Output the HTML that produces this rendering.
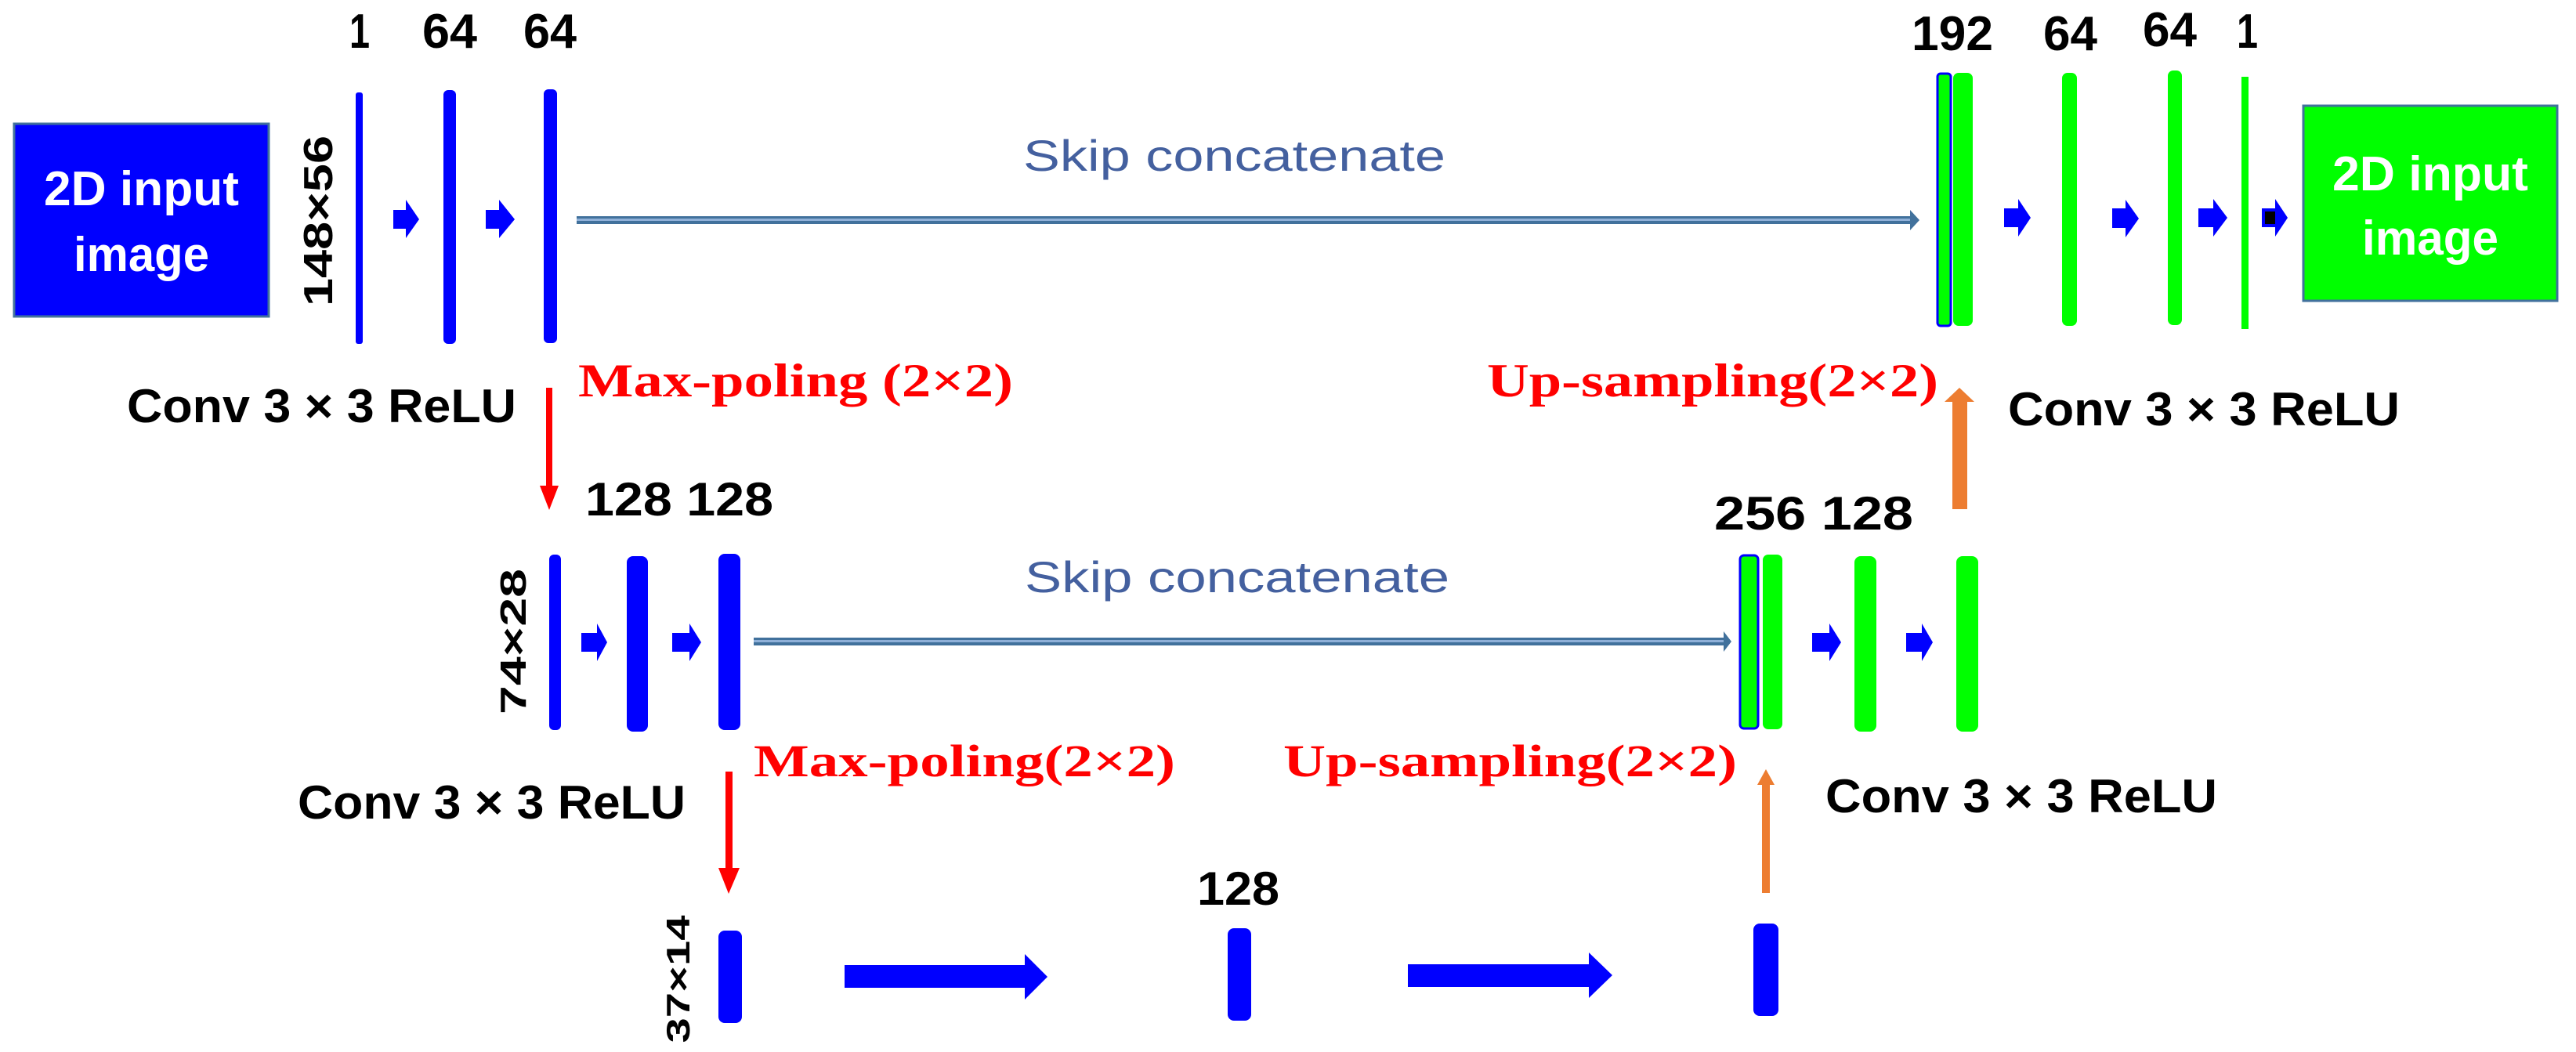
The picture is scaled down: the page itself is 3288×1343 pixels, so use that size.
<!DOCTYPE html>
<html><head><meta charset="utf-8"><style>
html,body{margin:0;padding:0;background:#fff;}
svg{display:block;}
.n{font-family:"Liberation Sans",sans-serif;font-weight:bold;fill:#000;}
.r{font-family:"Liberation Serif",serif;font-weight:bold;fill:#ff0000;}
.s{font-family:"Liberation Sans",sans-serif;fill:#44609f;}
.w{font-family:"Liberation Sans",sans-serif;font-weight:bold;fill:#fff;}
</style></head><body>
<svg width="3288" height="1343" viewBox="0 0 3288 1343" xmlns="http://www.w3.org/2000/svg">
<!-- input box -->
<rect x="18" y="158" width="325" height="246" fill="#0000ff" stroke="#41719c" stroke-width="3"/>
<text class="w" x="56" y="262" font-size="62" textLength="249" lengthAdjust="spacingAndGlyphs">2D input</text>
<text class="w" x="94" y="346" font-size="62" textLength="173" lengthAdjust="spacingAndGlyphs">image</text>
<!-- output box -->
<rect x="2940" y="135" width="324" height="249" fill="#00ff00" stroke="#41719c" stroke-width="3"/>
<text class="w" x="2977" y="243" font-size="62" textLength="250" lengthAdjust="spacingAndGlyphs">2D input</text>
<text class="w" x="3015" y="325" font-size="62" textLength="174" lengthAdjust="spacingAndGlyphs">image</text>

<!-- top row numbers -->
<text class="n" x="446" y="61" font-size="62" textLength="26" lengthAdjust="spacingAndGlyphs">1</text>
<text class="n" x="539" y="61" font-size="62" textLength="70" lengthAdjust="spacingAndGlyphs">64</text>
<text class="n" x="668" y="61" font-size="62" textLength="68" lengthAdjust="spacingAndGlyphs">64</text>
<text class="n" x="2440" y="64" font-size="62" textLength="104" lengthAdjust="spacingAndGlyphs">192</text>
<text class="n" x="2608" y="64" font-size="62" textLength="69" lengthAdjust="spacingAndGlyphs">64</text>
<text class="n" x="2735" y="59" font-size="62" textLength="69" lengthAdjust="spacingAndGlyphs">64</text>
<text class="n" x="2855" y="61" font-size="62" textLength="27" lengthAdjust="spacingAndGlyphs">1</text>

<!-- vertical size labels -->
<text class="n" transform="translate(424,282) rotate(-90)" text-anchor="middle" font-size="52" textLength="218" lengthAdjust="spacingAndGlyphs">148×56</text>
<text class="n" transform="translate(671,819) rotate(-90)" text-anchor="middle" font-size="46" textLength="186" lengthAdjust="spacingAndGlyphs">74×28</text>
<text class="n" transform="translate(880,1250) rotate(-90)" text-anchor="middle" font-size="42" textLength="163" lengthAdjust="spacingAndGlyphs">37×14</text>

<!-- top encoder bars -->
<rect x="454" y="118" width="9" height="321" rx="3" fill="#0000ff"/>
<rect x="566" y="115" width="16" height="324" rx="6" fill="#0000ff"/>
<rect x="694" y="114" width="17" height="324" rx="6" fill="#0000ff"/>
<!-- small arrows -->
<polygon points="502,268 518,268 518,255 535,280 518,304 518,292 502,292" fill="#0000ff"/>
<polygon points="620,268 637,268 637,255 657,280 637,304 637,292 620,292" fill="#0000ff"/>

<!-- skip line top -->
<rect x="736" y="276" width="1704" height="10" fill="#41719c"/>
<rect x="736" y="279" width="1704" height="3" fill="#8fb0d8"/>
<polygon points="2438,268 2450,281 2438,294" fill="#41719c"/>
<text class="s" x="1306" y="218" font-size="56" textLength="539" lengthAdjust="spacingAndGlyphs">Skip concatenate</text>

<!-- top decoder bars -->
<rect x="2473" y="94" width="17" height="322" rx="4" fill="#00ff00" stroke="#0000ff" stroke-width="3"/>
<rect x="2493" y="93" width="25" height="323" rx="7" fill="#00ff00"/>
<rect x="2632" y="93" width="19" height="323" rx="7" fill="#00ff00"/>
<rect x="2767" y="90" width="18" height="325" rx="7" fill="#00ff00"/>
<rect x="2861" y="98" width="9" height="322" fill="#00ff00"/>
<polygon points="2558,266 2576,266 2576,254 2592,278 2576,302 2576,290 2558,290" fill="#0000ff"/>
<polygon points="2696,266 2713,266 2713,255 2730,279 2713,303 2713,291 2696,291" fill="#0000ff"/>
<polygon points="2806,266 2825,266 2825,254 2843,278 2825,302 2825,290 2806,290" fill="#0000ff"/>
<polygon points="2887,266 2904,266 2904,254 2920,278 2904,302 2904,290 2887,290" fill="#0000ff"/>
<rect x="2891" y="270" width="13" height="16" fill="#000"/>

<!-- labels row 1 -->
<text class="n" x="162" y="539" font-size="60" textLength="497" lengthAdjust="spacingAndGlyphs">Conv 3 × 3 ReLU</text>
<text class="r" x="738" y="506" font-size="60" textLength="555" lengthAdjust="spacingAndGlyphs">Max-poling (2×2)</text>
<text class="r" x="1898" y="506" font-size="60" textLength="576" lengthAdjust="spacingAndGlyphs">Up-sampling(2×2)</text>
<text class="n" x="2563" y="543" font-size="60" textLength="500" lengthAdjust="spacingAndGlyphs">Conv 3 × 3 ReLU</text>

<!-- red arrow 1 -->
<rect x="697" y="495" width="8" height="130" fill="#ff0000"/>
<polygon points="689,620 713,620 701,651" fill="#ff0000"/>
<!-- orange arrow 1 -->
<rect x="2492" y="512" width="19" height="138" fill="#ed7d31"/>
<polygon points="2482,513 2520,513 2501,495" fill="#ed7d31"/>

<!-- middle row -->
<text class="n" x="747" y="658" font-size="60" textLength="240" lengthAdjust="spacingAndGlyphs">128 128</text>
<text class="n" x="2188" y="676" font-size="60" textLength="254" lengthAdjust="spacingAndGlyphs">256 128</text>
<rect x="701" y="708" width="15" height="224" rx="6" fill="#0000ff"/>
<rect x="800" y="710" width="27" height="224" rx="8" fill="#0000ff"/>
<rect x="917" y="707" width="28" height="225" rx="8" fill="#0000ff"/>
<polygon points="742,808 762,808 762,796 775,820 762,844 762,832 742,832" fill="#0000ff"/>
<polygon points="858,808 880,808 880,796 895,820 880,844 880,832 858,832" fill="#0000ff"/>
<rect x="962" y="814" width="1240" height="10" fill="#41719c"/>
<rect x="962" y="817" width="1240" height="3" fill="#8fb0d8"/>
<polygon points="2200,806 2210,819 2200,832" fill="#41719c"/>
<text class="s" x="1308" y="756" font-size="56" textLength="542" lengthAdjust="spacingAndGlyphs">Skip concatenate</text>
<rect x="2221" y="709" width="23" height="221" rx="5" fill="#00ff00" stroke="#0000ff" stroke-width="3"/>
<rect x="2250" y="708" width="25" height="223" rx="7" fill="#00ff00"/>
<rect x="2367" y="710" width="28" height="224" rx="8" fill="#00ff00"/>
<rect x="2497" y="710" width="28" height="224" rx="8" fill="#00ff00"/>
<polygon points="2313,808 2335,808 2335,796 2350,820 2335,844 2335,832 2313,832" fill="#0000ff"/>
<polygon points="2433,808 2453,808 2453,796 2467,820 2453,844 2453,832 2433,832" fill="#0000ff"/>

<!-- labels row 2 -->
<text class="r" x="962" y="991" font-size="58" textLength="538" lengthAdjust="spacingAndGlyphs">Max-poling(2×2)</text>
<text class="r" x="1638" y="991" font-size="58" textLength="579" lengthAdjust="spacingAndGlyphs">Up-sampling(2×2)</text>
<text class="n" x="380" y="1045" font-size="60" textLength="495" lengthAdjust="spacingAndGlyphs">Conv 3 × 3 ReLU</text>
<text class="n" x="2330" y="1037" font-size="60" textLength="500" lengthAdjust="spacingAndGlyphs">Conv 3 × 3 ReLU</text>

<!-- red arrow 2 -->
<rect x="926" y="985" width="9" height="125" fill="#ff0000"/>
<polygon points="917,1108 944,1108 930,1141" fill="#ff0000"/>
<!-- orange arrow 2 -->
<rect x="2249" y="1000" width="10" height="140" fill="#ed7d31"/>
<polygon points="2243,1002 2265,1002 2254,982" fill="#ed7d31"/>

<!-- bottom row -->
<text class="n" x="1528" y="1155" font-size="60" textLength="105" lengthAdjust="spacingAndGlyphs">128</text>
<rect x="917" y="1188" width="30" height="118" rx="8" fill="#0000ff"/>
<rect x="1567" y="1185" width="30" height="118" rx="8" fill="#0000ff"/>
<rect x="2238" y="1179" width="32" height="118" rx="8" fill="#0000ff"/>
<polygon points="1078,1232 1308,1232 1308,1218 1337,1247 1308,1276 1308,1261 1078,1261" fill="#0000ff"/>
<polygon points="1797,1231 2028,1231 2028,1216 2058,1245 2028,1274 2028,1260 1797,1260" fill="#0000ff"/>
</svg>
</body></html>
